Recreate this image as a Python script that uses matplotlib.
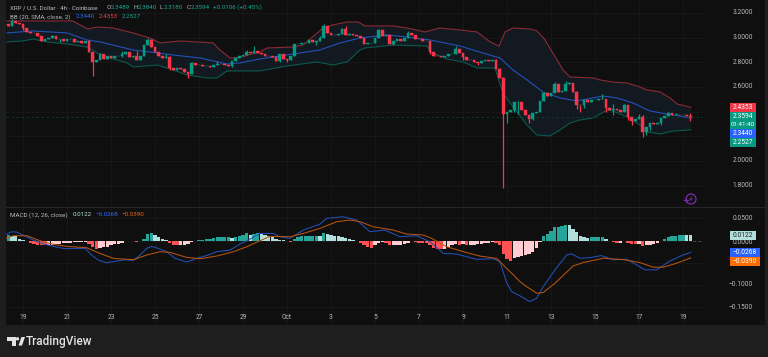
import matplotlib
matplotlib.use("Agg")
import matplotlib.pyplot as plt
import numpy as np
from matplotlib.patches import Rectangle, Polygon, Circle

plt.rcParams["font.family"] = ["Roboto", "DejaVu Sans"]

# candles: 4h closes, each candle opens on the previous close
first_open = 3.11
closes = [
    3.095, 3.135, 3.12, 3.11, 3.08, 3.045, 3.04, 3.035, 3.01, 2.975,
    2.985, 3.0, 3.015, 2.985, 2.985, 2.97, 2.985, 2.985, 2.965, 2.97,
    2.955, 2.97, 2.885, 2.80, 2.82, 2.865, 2.83, 2.855, 2.835, 2.85,
    2.855, 2.87, 2.885, 2.845, 2.85, 2.82, 2.85, 2.94, 2.98, 2.925,
    2.885, 2.85, 2.835, 2.845, 2.755, 2.74, 2.75, 2.745, 2.72, 2.705,
    2.795, 2.78, 2.775, 2.77, 2.77, 2.765, 2.775, 2.79, 2.785, 2.78,
    2.77, 2.81, 2.835, 2.85, 2.86, 2.885, 2.875, 2.89, 2.875, 2.87,
    2.855, 2.85, 2.84, 2.81, 2.865, 2.83, 2.82, 2.855, 2.945, 2.945,
    2.955, 2.96, 2.98, 2.965, 2.97, 2.995, 3.095, 3.04, 3.02, 3.025,
    3.03, 3.07, 3.02, 3.03, 3.025, 3.01, 2.995, 2.95, 2.955, 2.96,
    3.0, 3.06, 3.015, 3.02, 2.95, 2.975, 2.985, 2.975, 3.0, 3.035,
    3.025, 2.99, 2.985, 2.97, 2.975, 2.885, 2.855, 2.85, 2.845, 2.85,
    2.865, 2.865, 2.91, 2.875, 2.845, 2.82, 2.815, 2.80, 2.795, 2.81,
    2.815, 2.81, 2.815, 2.745, 2.67, 2.38, 2.395, 2.415, 2.475, 2.478,
    2.41, 2.37, 2.34, 2.39, 2.395, 2.485, 2.55, 2.525, 2.55, 2.625,
    2.56, 2.565, 2.62, 2.63, 2.56, 2.455, 2.45, 2.495, 2.48, 2.495,
    2.495, 2.50, 2.50, 2.43, 2.415, 2.42, 2.415, 2.40, 2.455, 2.36,
    2.325, 2.34, 2.36, 2.235, 2.275, 2.305, 2.30, 2.31, 2.345, 2.365,
    2.385, 2.37, 2.375, 2.37, 2.375, 2.365, 2.3594,
]
wick_highs = {
    1: 3.15, 12: 3.025, 22: 2.98, 31: 2.89, 35: 2.89, 38: 3.0, 39: 2.99, 43: 2.865, 44: 2.85,
    50: 2.80, 57: 2.81, 65: 2.90, 67: 2.93, 78: 2.95, 85: 3.01, 86: 3.11, 91: 3.08, 92: 3.095,
    101: 3.07, 109: 3.05, 122: 2.93, 133: 2.83, 134: 2.75, 135: 2.68, 139: 2.49, 146: 2.56,
    149: 2.64, 152: 2.65, 153: 2.64, 155: 2.57, 162: 2.54, 165: 2.46, 168: 2.46, 172: 2.38,
    173: 2.37, 180: 2.40, 182: 2.39, 186: 2.39,
}
wick_lows = {
    4: 3.06, 14: 2.965, 23: 2.69, 25: 2.82, 31: 2.84, 44: 2.74, 49: 2.675, 61: 2.76, 74: 2.80,
    76: 2.80, 84: 2.94, 105: 2.94, 115: 2.87, 124: 2.82, 128: 2.78, 135: 1.78, 136: 2.31,
    138: 2.40, 139: 2.38, 142: 2.31, 143: 2.33, 155: 2.42, 156: 2.40, 157: 2.43, 163: 2.40,
    165: 2.37, 169: 2.33, 170: 2.29, 173: 2.195, 174: 2.21, 175: 2.25, 178: 2.29, 186: 2.325,
}

# bollinger bands, x in days after 19 Sep
upper_x = [-0.73, 0.45, 2.27, 2.59, 2.95, 3.36, 4.09, 5.0, 5.77, 6.23, 7.14, 8.64, 8.95, 9.41, 9.86, 10.77,
           11.09, 12.27, 12.73, 13.64, 14.09, 14.73, 15.23, 15.55, 16.82, 17.45, 18.27, 18.95, 19.86, 20.64,
           21.23, 21.64, 21.91, 22.27, 23.05, 23.36, 23.73, 24.05, 24.55, 24.86, 25.91, 26.23, 26.82, 27.45,
           27.91, 28.36, 28.95, 29.41, 29.73, 30.36]
upper_y = [3.135, 3.135, 3.135, 3.103, 3.07, 3.086, 3.078, 3.038, 2.997, 2.957, 2.973, 2.957, 2.90, 2.835, 2.84, 2.884,
           2.916, 2.924, 2.94, 3.078, 3.103, 3.127, 3.127, 3.095, 3.095, 3.078, 3.046, 3.078, 3.062, 3.046,
           2.965, 2.932, 3.046, 3.078, 3.07, 3.054, 2.981, 2.884, 2.738, 2.681, 2.673, 2.657, 2.64, 2.632,
           2.608, 2.576, 2.56, 2.511, 2.462, 2.4353]
basis_x = [-0.73, 0.45, 2.0, 2.91, 3.5, 5.0, 5.77, 6.82, 8.05, 8.64, 9.27, 9.86, 10.77, 12.27, 13.5, 14.41, 15.32,
           16.55, 17.45, 18.5, 19.86, 21.36, 21.68, 22.27, 22.91, 23.64, 24.41, 25.18, 26.36, 27.0, 27.73, 28.5,
           29.27, 29.86, 30.36]
basis_y = [3.038, 3.054, 3.038, 2.981, 2.965, 2.90, 2.884, 2.859, 2.835, 2.811, 2.786, 2.795, 2.827, 2.867, 2.90,
           2.957, 2.997, 3.022, 3.005, 2.981, 2.932, 2.851, 2.835, 2.738, 2.657, 2.559, 2.511, 2.486, 2.527, 2.511,
           2.47, 2.405, 2.381, 2.365, 2.344]
lower_x = [-0.73, 0, 0.45, 1.09, 2.0, 2.91, 3.36, 4.09, 4.73, 5.0, 6.09, 6.82, 7.45, 8.36, 8.82, 9.27, 10.77, 12.0,
           13.36, 14.09, 14.73, 15.32, 15.55, 16.82, 18.36, 18.59, 19.27, 20.0, 20.64, 21.45, 21.82, 22.27, 22.91,
           23.36, 23.95, 24.41, 24.86, 25.32, 25.91, 26.55, 26.82, 27.45, 28.05, 28.41, 28.95, 29.55, 30.36]
lower_y = [2.965, 2.973, 2.989, 2.965, 2.949, 2.924, 2.876, 2.827, 2.795, 2.762, 2.778, 2.738, 2.697, 2.673, 2.673,
           2.73, 2.73, 2.77, 2.803, 2.778, 2.803, 2.90, 2.916, 2.94, 2.932, 2.876, 2.827, 2.803, 2.754, 2.754, 2.551,
           2.438, 2.292, 2.211, 2.203, 2.251, 2.308, 2.332, 2.349, 2.413, 2.405, 2.357, 2.292, 2.235, 2.219, 2.243,
           2.2527]

# macd pane, histogram in thousandths
hist_milli = [
    12, 11, 10, 4.5, 1.5, -2, -5, -7.5, -9, -10.5, -11, -10, -9, -8, -7.5, -6, -5, -4.5, -4, -4,
    -3, -3, -7.5, -15, -19, -16.5, -15, -13.5, -10.5, -8, -7, -4.5, -2, -1.5, -2, -3, -1.5, 4.5, 15, 17,
    13.5, 7, 4, 1.5, -6, -9, -10, -10, -9, -7.5, -4, -1.5, 1, 1.5, 3, 4.5, 5, 7, 7.5, 7.5,
    7.5, 6, 9, 11, 13.5, 16, 13.5, 14, 16, 15, 13, 10.5, 7.5, 4, 2, 1.5, -1.5, -3, 4, 7,
    10, 11, 11, 11, 11, 10.5, 16.5, 15, 12, 10.5, 10, 7.5, 5, 4, 1, -2, -4.5, -11, -15, -16,
    -10.5, -4.5, -4, -6, -10.5, -10.5, -9, -9, -7.5, -4.5, -2, -3, -4.5, -5, -6, -9, -17, -19.5, -20, -18,
    -14, -11, -7.5, -9, -7.5, -9, -9, -9, -8, -7, -6, -4.5, -4, -5, -11, -30, -41, -45, -39, -36,
    -34.5, -33, -30, -26, -16.5, -4, 10, 15, 21, 30, 31.5, 32, 34.5, 34, 26, 19, 11, 7.5, 6, 7,
    7, 7, 7, 4, -2, -4, -4.5, -4.5, -1.5, -6, -7.5, -8, -7.5, -13, -11, -10, -7.5, -4.5, -1, 4,
    7.5, 10, 11, 13.5, 13.5, 13, 12.2,
]
macd_x = [-0.77, -0.52, -0.29, 0.09, 0.47, 0.85, 1.45, 1.91, 2.36, 2.82, 3.12, 3.42, 3.80, 4.18, 4.64, 5.02, 5.32,
          5.62, 5.85, 6.15, 6.53, 6.91, 7.44, 7.89, 8.42, 8.80, 9.41, 9.86, 10.24, 10.77, 11.38, 11.68, 12.14,
          12.74, 13.5, 13.8, 14.56, 15.17, 15.77, 16.45, 17.14, 17.89, 18.5, 19.11, 19.71, 20.62, 21.38, 21.68,
          21.98, 22.21, 22.59, 23.04, 23.35, 23.65, 24.18, 24.71, 24.94, 25.32, 25.77, 26.30, 26.83, 27.44, 27.89,
          28.27, 28.80, 29.41, 30.01, 30.35]
macd_y = [13.9, 19.9, 19.1, 10.1, 1.1, -6.4, -13.9, -18.4, -17.6, -17.6, -32.6, -43.9, -49.9, -46.9, -43.1, -44.6,
          -32.6, -17.6, -13.1, -17.6, -25.1, -40.1, -48.4, -40.1, -32.6, -25.1, -21.4, -7.9, 1.1, 16.1, 16.1, 8.6,
          4.9, 23.6, 37.1, 49.9, 53.6, 46.1, 19.9, 23.6, 8.6, 10.9, -2.6, -28.9, -30.4, -42.4, -40.9, -47.6, -94,
          -114.8, -124.5, -137.3, -129.8, -103.5, -66, -32.3, -30, -39.8, -38.3, -33.8, -43.5, -42, -54.8, -66, -66,
          -45.8, -32.3, -26.8]
signal_x = [-0.77, -0.44, 0.17, 0.77, 1.38, 1.99, 2.89, 3.5, 4.11, 5.02, 5.62, 6.23, 6.68, 7.44, 8.05, 8.80, 9.56,
            10.17, 10.77, 11.23, 12.14, 12.74, 13.5, 14.26, 14.86, 15.32, 15.92, 16.83, 17.44, 18.2, 18.58, 19.26,
            20.02, 20.77, 21.53, 21.98, 22.29, 22.59, 22.89, 23.35, 23.65, 24.18, 25.01, 25.47, 26.38, 27.29, 28.04,
            28.65, 29.10, 29.71, 30.35]
signal_y = [4.9, 10.9, 10.9, -0.4, -8.6, -13.1, -16.1, -28.9, -40.1, -43.1, -32.6, -25.1, -26.6, -37.9, -40.9, -34.9,
            -25.1, -13.9, -0.4, 9.4, 8.6, 16.1, 27.4, 42.4, 46.1, 42.4, 31.1, 23.6, 14.6, 12.4, 4.9, -13.9, -25.1,
            -34.9, -40.1, -62.6, -77.3, -92.6, -103.5, -118.5, -117, -96, -57, -49.5, -39.8, -42.8, -49.5, -60, -60,
            -51, -39]

date_days = [0, 2, 4, 6, 8, 10, 12, 14, 16, 18, 20, 22, 24, 26, 28, 30]
date_labels = ["19", "21", "23", "25", "27", "29", "Oct", "3", "5", "7", "9", "11", "13", "15", "17", "19"]
price_ticks = [3.2, 3.0, 2.8, 2.6, 2.4, 2.2, 2.0, 1.8]
price_tick_labels = ["3.2000", "3.0000", "2.8000", "2.6000", "2.0000", "1.8000"]
macd_ticks = [0.05, 0.0, -0.05, -0.1, -0.15]

BG = "#0f0f0f"
GRID = "#191919"
UP = "#089981"
DOWN = "#f7364b"
W, H = 768, 357

fig = plt.figure(figsize=(W / 100, H / 100), dpi=100, facecolor="#1e1e1e")


def pane(x0, y0, x1, y1):
    return fig.add_axes([x0 / W, 1 - y1 / H, (x1 - x0) / W, (y1 - y0) / H])


# dark block behind panes and price scale
back = fig.add_axes([6 / W, 1 - 325 / H, 759 / W, 325 / H], facecolor=BG)
back.set_xticks([])
back.set_yticks([])
for s in back.spines.values():
    s.set_visible(False)

ax = pane(6, 0, 703, 206)
ax2 = pane(6, 207, 703, 325)
xlim = (-0.773, 30.909)
for a in (ax, ax2):
    a.set_facecolor(BG)
    a.set_xlim(xlim)
    a.set_xticks(date_days)
    a.tick_params(length=0, labelbottom=False, labelleft=False)
    a.grid(True, color=GRID, lw=0.6)
    a.set_axisbelow(True)
    for s in a.spines.values():
        s.set_visible(False)
ax.set_ylim(1.635, 3.305)
ax.set_yticks(price_ticks)
ax2.set_ylim(-0.190, 0.0755)
ax2.set_yticks(macd_ticks)

# candles
closes = np.array(closes)
opens = np.r_[first_open, closes[:-1]]
days = (np.arange(len(closes)) - 4) / 6
colors = [UP if c >= o else DOWN for o, c in zip(opens, closes)]
highs = np.maximum(opens, closes)
lows = np.minimum(opens, closes)
for k, v in wick_highs.items():
    highs[k] = v
for k, v in wick_lows.items():
    lows[k] = v

ax.fill(np.r_[upper_x, lower_x[::-1]], np.r_[upper_y, lower_y[::-1]], color="#121920", lw=0, zorder=1)
ax.plot(upper_x, upper_y, color="#8a2a35", lw=0.8, zorder=2)
ax.plot(basis_x, basis_y, color="#2450b8", lw=0.8, zorder=2)
ax.plot(lower_x, lower_y, color="#0c5a4d", lw=0.8, zorder=2)
ax.axhline(closes[-1], color="#0a3d34", lw=0.6, ls=(0, (3, 3)), zorder=2)
ax.vlines(days, lows, highs, colors=colors, lw=0.9, zorder=3)
ax.bar(days, np.abs(closes - opens), bottom=np.minimum(opens, closes), width=0.125, color=colors,
       edgecolor=colors, lw=0.3, zorder=4)

# macd
hist = np.array(hist_milli) / 1000
prev = np.r_[hist[0], hist[:-1]]
bar_colors = []
for h, p in zip(hist, prev):
    if h >= 0:
        bar_colors.append("#26a69a" if h >= p else "#b2dfdb")
    else:
        bar_colors.append("#ffcdd2" if h >= p else "#ff5252")
ax2.bar(days, hist, width=0.15, color=bar_colors, lw=0, zorder=2)
ax2.plot(macd_x, np.array(macd_y) / 1000, color="#2450b8", lw=0.75, zorder=3)
ax2.plot(signal_x, np.array(signal_y) / 1000, color="#b85410", lw=0.75, zorder=3)
ax2.axhline(0, xmin=0.985, color="#555555", lw=0.6, ls=(0, (3, 3)), zorder=1)

# overlay in pixels for legends, scale labels and logo
ov = fig.add_axes([0, 0, 1, 1], facecolor="none")
ov.set_xlim(0, W)
ov.set_ylim(H, 0)
ov.axis("off")
ov.plot([6, 765], [206.5, 206.5], color="#262626", lw=0.8)

GREY = "#b8bbc2"
FS = 4.5


def label(x, y, s, color=GREY, size=FS, ha="left", **kw):
    ov.text(x, y, s, color=color, fontsize=size, ha=ha, va="center", **kw)


label(10, 7.5, "XRP / U.S. Dollar · 4h · Coinbase")
for x, s in [(106.5, "O"), (133, "H"), (160, "L"), (187, "C")]:
    label(x, 7.5, s)
for x, s in [(111, "2.3489"), (137.5, "2.3840"), (164, "2.3180"), (191, "2.3594"), (213, "+0.0106 (+0.45%)")]:
    label(x, 7.5, s, color="#1aa58c")
label(10, 17, "BB (20, SMA, close, 2)")
label(76, 17, "2.3440", color="#2f6bff")
label(99, 17, "2.4353", color="#e8404f")
label(122, 17, "2.2527", color="#1aa58c")
label(10, 215, "MACD (12, 26, close)")
label(73, 215, "0.0122", color="#b2dfdb")
label(96, 215, "−0.0268", color="#2f6bff")
label(122, 215, "−0.0390", color="#e8641a")

# price scale ticks
for t in price_tick_labels:
    y = ax.transData.transform((0, float(t)))[1]
    label(753, H - y, t, ha="right", size=4.8)
for v, t in [(0.05, "0.0500"), (0.0, "0.0000"), (-0.1, "−0.1000"), (-0.15, "−0.1500")]:
    y = ax2.transData.transform((0, v))[1]
    if v == 0.0:
        y -= 1.5
    label(753, H - y, t, ha="right", size=4.8)
for x, s in zip(date_days, date_labels):
    px = ax2.transData.transform((x, 0))[0]
    label(px, 317.5, s, ha="center", size=4.8)


def tag(y0, y1, color, text, x1=756, tc="white"):
    ov.add_patch(Rectangle((730, y0), x1 - 730, y1 - y0, color=color, lw=0, zorder=5))
    label((730 + x1) / 2, (y0 + y1) / 2, text, color=tc, ha="center", zorder=6, size=4.8)


tag(103, 112, "#f23645", "2.4353")
ov.add_patch(Rectangle((730, 112), 26, 17, color=UP, lw=0, zorder=5))
label(743, 116.5, "2.3594", color="white", ha="center", zorder=6, size=4.8)
label(743, 124.5, "01:41:40", color="white", ha="center", zorder=6, size=4.5)
tag(129, 137.5, "#2962ff", "2.3440")
tag(138, 147, UP, "2.2527")
tag(231, 239.5, "#b2dfdb", "0.0122", tc="#222222")
tag(248, 257, "#2962ff", "−0.0268", x1=760)
tag(257, 266, "#ff6d00", "−0.0390", x1=760)

# lightning icon
ov.add_patch(Circle((691, 199), 5, fill=False, ec="#7b2fa8", lw=0.9))
ov.add_patch(Polygon([(692.5, 195.5), (689, 199.5), (691, 199.5), (689.5, 202.5), (693, 198.3), (691, 198.3)],
                     color="#7b2fa8", lw=0))
ov.plot([683.5, 687.5], [200, 200], color="#7b2fa8", lw=0.8)
ov.plot([685.5, 685.5], [198, 202], color="#7b2fa8", lw=0.8)

# logo
ov.add_patch(Polygon([(7, 337), (16, 337), (16, 345.5), (12, 345.5), (12, 340.5), (7, 340.5)], color="#e4e4e4", lw=0))
ov.add_patch(Circle((17.5, 338.8), 1.7, color="#e4e4e4", lw=0))
ov.add_patch(Polygon([(18.5, 345.5), (21.5, 337), (25, 337), (22, 345.5)], color="#e4e4e4", lw=0))
ov.text(26, 341.5, "TradingView", color="#e4e4e4", fontsize=8.5, ha="left", va="center", fontweight="medium")

fig.savefig("out.png", dpi=100, facecolor=fig.get_facecolor())
